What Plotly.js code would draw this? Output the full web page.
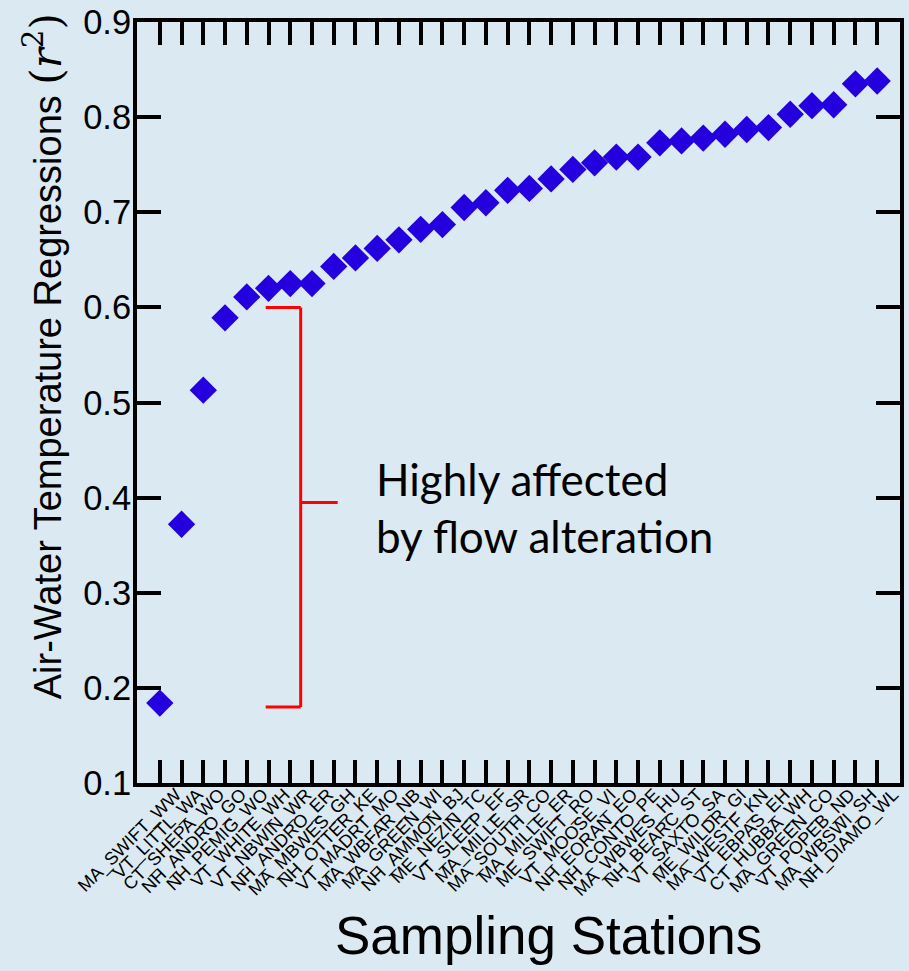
<!DOCTYPE html>
<html>
<head>
<meta charset="utf-8">
<script src="https://cdn.plot.ly/plotly-3.0.1.min.js"></script>
<style>
html,body{margin:0;padding:0;background:#DBEAF2;}
#chart{width:909px;height:971px;}
</style>
</head>
<body>
<div id="chart"></div>
<script>
var stations = ["MA_SWIFT_WW","VT_LITTL_WA","CT_SHEPA_WO","NH_ANDRO_GO","NH_PEMIG_WO","VT_WHITE_WH","VT_NBWIN_WR","NH_ANDRO_ER","MA_MBWES_GH","NH_OTTER_KE","VT_MADRT_MO","MA_WBFAR_NB","MA_GREEN_WI","NH_AMMON_BJ","ME_NEZIN_TC","VT_SLEEP_EF","MA_MILLE_SR","MA_SOUTH_CO","MA_MILLE_ER","ME_SWIFT_RO","VT_MOOSE_VI","NH_EORAN_EO","NH_CONTO_PE","MA_WBWES_HU","NH_BEARC_ST","VT_SAXTO_SA","ME_WILDR_GI","MA_WESTF_KN","VT_EBPAS_EH","CT_HUBBA_WH","MA_GREEN_CO","VT_POPEB_ND","MA_WBSWI_SH","NH_DIAMO_WL"];
var r2 = [0.184,0.372,0.513,0.589,0.611,0.620,0.625,0.625,0.643,0.652,0.662,0.671,0.682,0.687,0.705,0.710,0.723,0.725,0.735,0.745,0.752,0.758,0.758,0.773,0.775,0.778,0.782,0.787,0.789,0.803,0.812,0.813,0.835,0.838];
var yTicks = [0.1,0.2,0.3,0.4,0.5,0.6,0.7,0.8,0.9];

var bg = '#DBEAF2';
var arial = 'Arial, "Liberation Sans", sans-serif';
var trace = {
  x: stations, y: r2, type: 'scatter', mode: 'markers',
  marker: {symbol: 'diamond', size: 21, color: '#2400DE', line: {width: 0}},
  hoverinfo: 'x+y', showlegend: false
};
var layout = {
  width: 909, height: 971,
  paper_bgcolor: bg, plot_bgcolor: bg,
  margin: {l: 137, r: 9, t: 22, b: 188},
  font: {family: arial, color: '#000'},
  xaxis: {
    type: 'category', range: [-1.05, 34.05],
    tickmode: 'array', tickvals: stations, ticktext: stations,
    showline: true, linewidth: 4, linecolor: '#000', mirror: 'ticks',
    ticks: 'inside', ticklen: 23, tickwidth: 4, tickcolor: '#000',
    tickangle: -45, tickfont: {size: 18, family: arial},
    ticklabelshift: 16, ticklabelstandoff: -10,
    showgrid: false, zeroline: false
  },
  yaxis: {
    range: [0.1, 0.9], tickvals: yTicks, ticktext: yTicks.map(function(v){return v.toFixed(1);}),
    showline: true, linewidth: 4, linecolor: '#000', mirror: 'ticks',
    ticks: 'inside', ticklen: 24, tickwidth: 4, tickcolor: '#000',
    tickfont: {size: 34.5}, ticklabelstandoff: -5,
    showgrid: false, zeroline: false
  },
  shapes: [
    {type: 'line', xref: 'x', yref: 'y', x0: 6.48, x1: 6.48, y0: 0.18, y1: 0.6, line: {color: '#FF0000', width: 3}},
    {type: 'line', xref: 'x', yref: 'y', x0: 4.87, x1: 6.48, y0: 0.6, y1: 0.6, line: {color: '#FF0000', width: 3}},
    {type: 'line', xref: 'x', yref: 'y', x0: 4.87, x1: 6.48, y0: 0.18, y1: 0.18, line: {color: '#FF0000', width: 3}},
    {type: 'line', xref: 'x', yref: 'y', x0: 6.48, x1: 8.18, y0: 0.395, y1: 0.395, line: {color: '#FF0000', width: 3}}
  ],
  annotations: [
    {xref: 'x', yref: 'y', x: 9.85, y: 0.390, xanchor: 'left', yanchor: 'middle', showarrow: false, align: 'left',
     text: 'Highly affected<br>by flow alteration', font: {size: 44, family: 'Lato, "Open Sans", sans-serif', color: '#000'}},
    {xref: 'paper', yref: 'paper', x: 0.539, y: -0.2, xanchor: 'center', yanchor: 'middle', showarrow: false,
     text: 'Sampling Stations', font: {size: 53, family: arial, color: '#000'}},
    {xref: 'paper', yref: 'paper', x: -0.123, y: 0.561, xanchor: 'center', yanchor: 'middle', showarrow: false, textangle: -90,
     text: 'Air-Water Temperature Regressions <span style="font-family:\'DejaVu Serif\',serif;font-size:42px">(<i>r</i><sup>2</sup>)</span>',
     font: {size: 38, family: arial, color: '#000'}}
  ]
};
Plotly.newPlot('chart', [trace], layout, {displayModeBar: false});
</script>
</body>
</html>
